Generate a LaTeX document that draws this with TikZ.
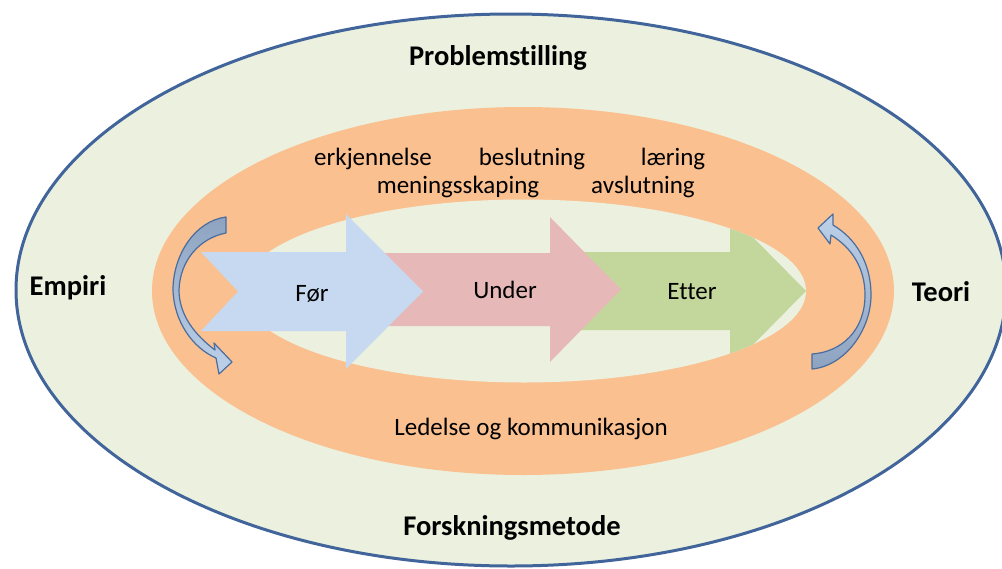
\documentclass[tikz,border=0pt]{standalone}
\usepackage{fontspec}
\setmainfont[Ligatures=NoCommon]{Carlito}
\usetikzlibrary{positioning}

\definecolor{paleGreen}{HTML}{EBF1DE}
\definecolor{ringOrange}{HTML}{FAC090}
\definecolor{rimBlue}{HTML}{41659A}
\definecolor{forBlue}{HTML}{C6D9F1}
\definecolor{underRed}{HTML}{E6B9B8}
\definecolor{etterGreen}{HTML}{C3D69B}
\definecolor{turnDark}{HTML}{8DA3C0}
\definecolor{turnLight}{HTML}{BDD1EA}
\definecolor{turnEdge}{HTML}{4A6D9E}

\begin{document}
\begin{tikzpicture}[x=1pt,y=-1pt,
  big/.style={font=\fontsize{28.5}{33}\selectfont\bfseries, anchor=base, inner sep=0pt},
  word/.style={font=\fontsize{25}{30}\selectfont, anchor=base, inner sep=0pt},
  turn/.style={draw=turnEdge, line width=1.2pt, line join=round}]

\useasboundingbox (0,0) rectangle (1002,568);

% outer field and ring
\draw[fill=paleGreen, draw=rimBlue, line width=3pt] (511,290) ellipse [x radius=495pt, y radius=276pt];
\fill[ringOrange] (523,291) ellipse [x radius=371pt, y radius=184pt];
\fill[paleGreen] (524,291) ellipse [x radius=282pt, y radius=91.5pt];

% phases
\begin{scope}
  \clip (524,291) ellipse [x radius=282pt, y radius=91.5pt];
  \fill[etterGreen] (560,252) -- (730,252) -- (730,214) -- (806,291) -- (730,368)
    -- (730,330) -- (560,330) -- (597,291) -- cycle;
\end{scope}
\fill[underRed] (360,253) -- (550,253) -- (550,217) -- (621,289.5) -- (550,362)
  -- (550,326) -- (360,326) -- (396,289.5) -- cycle;
\fill[forBlue] (201,252) -- (346,252) -- (346,214) -- (423,291.5) -- (346,369)
  -- (346,331) -- (201,331) -- (238,291.5) -- cycle;

% turning arrows
\draw[turn, top color=turnDark, bottom color=turnLight]
  (226,233) -- (226,217) .. controls (195,221) and (173,255) .. (173,290)
  .. controls (174,322) and (193,348) .. (216,358)
  -- (219,374) -- (232,362) -- (214,343) -- (215,350)
  .. controls (195,335) and (179,315) .. (179,290)
  .. controls (180,260) and (200,238) .. (226,233) -- cycle;
\draw[turn, top color=turnLight, bottom color=turnDark]
  (812,354) -- (812,369) .. controls (845,366) and (871,330) .. (871,295)
  .. controls (871,262) and (855,238) .. (833,225)
  -- (833,214) -- (818,228) -- (830,244) -- (831,235)
  .. controls (852,248) and (865,268) .. (865,295)
  .. controls (865,330) and (842,352) .. (812,354) -- cycle;

% labels
\node[big] (prob) at (498,65) {Problemstilling};
\node[big] (metode) at (512,535) {Forskningsmetode};
\node[big] (empiri) at (68,295) {Empiri};
\node[big] (teori) at (941,301) {Teori};

\node[word] (erkj) at (373,165) {erkjennelse};
\node[word] (beslut) at (532,165) {beslutning};
\node[word] (laering) at (673,165) {læring};
\node[word] (mening) at (458,193) {meningsskaping};
\node[word] (avslut) at (643,193) {avslutning};
\node[word] (ledelse) at (531,435) {Ledelse og kommunikasjon};

\node[word] (foer) at (312,301) {Før};
\node[word] (under) at (505,298) {Under};
\node[word] (etter) at (692,299) {Etter};
\end{tikzpicture}
\end{document}
